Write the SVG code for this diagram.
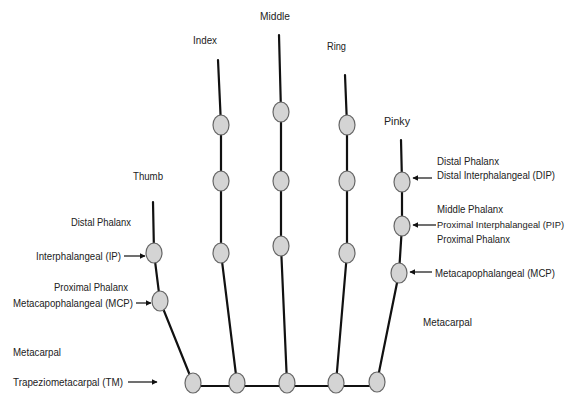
<svg xmlns="http://www.w3.org/2000/svg" width="568" height="397" viewBox="0 0 568 397">
<defs>
<marker id="ah" viewBox="0 0 10 10" refX="9" refY="5" markerWidth="6" markerHeight="6" orient="auto" markerUnits="userSpaceOnUse">
<path d="M0,0 L10,5 L0,10 Z" fill="#111"/>
</marker>
<style>
.bone{stroke:#111;stroke-width:2.2;fill:none;stroke-linecap:round}
.arr{stroke:#111;stroke-width:1.2;fill:none;marker-end:url(#ah)}
.j{fill:#d4d4d4;stroke:#666;stroke-width:1.2}
text{font-family:"Liberation Sans",Arial,sans-serif;font-size:11px;fill:#222}
.r{font-size:10px}
.rs{font-size:9.5px}
</style>
</defs>
<rect width="568" height="397" fill="#fff"/>
<g id="connectors">
<polyline class="bone" points="153,202 154,253 160,301 193,383"/>
<polyline class="bone" points="218,60 221,125 221,181 221,253 237,383"/>
<polyline class="bone" points="279,35 281,112 281,181 281,246 287,383"/>
<polyline class="bone" points="345,75 347,125 347,181 347,253 336,383"/>
<polyline class="bone" points="401,140 402,182 402,226 399,273 377,382"/>
<line class="bone" x1="193" y1="386" x2="377" y2="386"/>
<line class="arr" x1="124" y1="256" x2="145" y2="256"/>
<line class="arr" x1="136" y1="303" x2="151" y2="303"/>
<line class="arr" x1="128" y1="382" x2="157" y2="382"/>
<line class="arr" x1="432" y1="178" x2="413" y2="178"/>
<line class="arr" x1="436" y1="225" x2="413" y2="225"/>
<line class="arr" x1="432" y1="272" x2="410" y2="272"/>
</g>
<g id="thumb">
<ellipse class="j" cx="154" cy="253" rx="8" ry="10"/>
<ellipse class="j" cx="160" cy="301" rx="8" ry="10"/>
<text x="133" y="180" textLength="30" lengthAdjust="spacingAndGlyphs">Thumb</text>
</g>
<g id="index">
<ellipse class="j" cx="221" cy="125" rx="8" ry="10"/>
<ellipse class="j" cx="221" cy="181" rx="8" ry="10"/>
<ellipse class="j" cx="221" cy="253" rx="8" ry="10"/>
<text x="193" y="44" textLength="24" lengthAdjust="spacingAndGlyphs">Index</text>
</g>
<g id="middle">
<ellipse class="j" cx="281" cy="112" rx="8" ry="10"/>
<ellipse class="j" cx="281" cy="181" rx="8" ry="10"/>
<ellipse class="j" cx="281" cy="246" rx="8" ry="10"/>
<text x="260" y="20" textLength="30" lengthAdjust="spacingAndGlyphs">Middle</text>
</g>
<g id="ring">
<ellipse class="j" cx="347" cy="125" rx="8" ry="10"/>
<ellipse class="j" cx="347" cy="181" rx="8" ry="10"/>
<ellipse class="j" cx="347" cy="253" rx="8" ry="10"/>
<text x="327" y="50" textLength="19" lengthAdjust="spacingAndGlyphs">Ring</text>
</g>
<g id="pinky">
<ellipse class="j" cx="402" cy="182" rx="8" ry="10"/>
<ellipse class="j" cx="402" cy="226" rx="8" ry="10"/>
<ellipse class="j" cx="399" cy="273" rx="8" ry="10"/>
<text x="384" y="125" textLength="26" lengthAdjust="spacingAndGlyphs">Pinky</text>
</g>
<g id="base">
<ellipse class="j" cx="193" cy="383" rx="8" ry="10"/>
<ellipse class="j" cx="237" cy="383" rx="8" ry="10"/>
<ellipse class="j" cx="287" cy="383" rx="8" ry="10"/>
<ellipse class="j" cx="336" cy="383" rx="8" ry="10"/>
<ellipse class="j" cx="377" cy="382" rx="8" ry="10"/>
</g>
<g id="labels-left">
<text x="71" y="226" textLength="60" lengthAdjust="spacingAndGlyphs">Distal Phalanx</text>
<text x="36" y="260" textLength="85" lengthAdjust="spacingAndGlyphs">Interphalangeal (IP)</text>
<text x="54" y="291" textLength="74" lengthAdjust="spacingAndGlyphs">Proximal Phalanx</text>
<text x="13" y="307" textLength="120" lengthAdjust="spacingAndGlyphs">Metacapophalangeal (MCP)</text>
<text x="13" y="356" textLength="48" lengthAdjust="spacingAndGlyphs">Metacarpal</text>
<text x="13" y="386" textLength="110" lengthAdjust="spacingAndGlyphs">Trapeziometacarpal (TM)</text>
</g>
<g id="labels-right">
<text class="r" x="437" y="165" textLength="62" lengthAdjust="spacingAndGlyphs">Distal Phalanx</text>
<text class="r" x="437" y="179" textLength="118" lengthAdjust="spacingAndGlyphs">Distal Interphalangeal (DIP)</text>
<text class="r" x="437" y="213" textLength="66" lengthAdjust="spacingAndGlyphs">Middle Phalanx</text>
<text class="rs" x="437" y="228" textLength="127" lengthAdjust="spacingAndGlyphs">Proximal Interphalangeal (PIP)</text>
<text class="r" x="437" y="243" textLength="73" lengthAdjust="spacingAndGlyphs">Proximal Phalanx</text>
<text class="r" x="435" y="277" textLength="120" lengthAdjust="spacingAndGlyphs">Metacapophalangeal (MCP)</text>
<text class="r" x="423" y="326" textLength="49" lengthAdjust="spacingAndGlyphs">Metacarpal</text>
</g>
</svg>
